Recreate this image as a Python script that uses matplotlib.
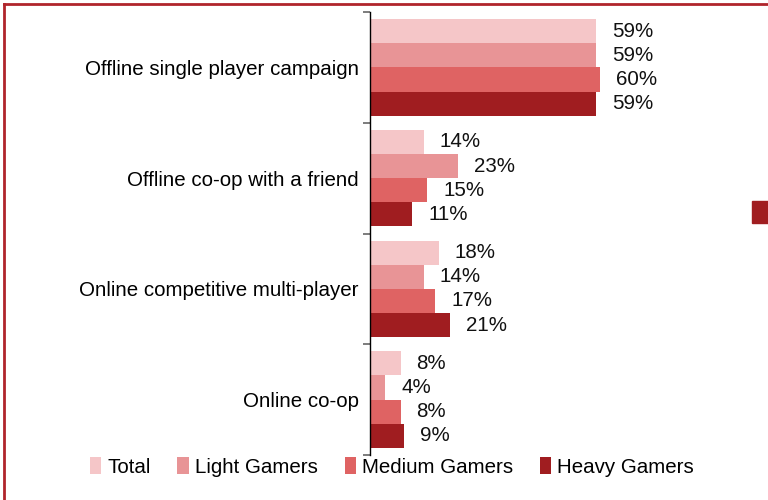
import matplotlib
matplotlib.use('Agg')
import matplotlib.pyplot as plt
from matplotlib.lines import Line2D
from matplotlib.patches import Rectangle
import numpy as np

plt.rcParams['font.family'] = ['Liberation Sans', 'DejaVu Sans']

categories = ['Offline single player campaign', 'Offline co-op with a friend',
              'Online competitive multi-player', 'Online co-op']
groups = ['Total', 'Light Gamers', 'Medium Gamers', 'Heavy Gamers']
total = [59, 14, 18, 8]
light = [59, 23, 14, 4]
medium = [60, 15, 17, 8]
heavy = [59, 11, 21, 9]
colors = ['#f5c6c8', '#e89496', '#df6363', '#a01d20']

series = [total, light, medium, heavy]

fig = plt.figure(figsize=(7.68, 5), dpi=100)
ax = fig.add_axes([370 / 768, 1 - 455 / 500, 398 / 768, 443 / 500])

bar_h = 0.218
y_base = np.arange(len(categories))
for i, (vals, col, name) in enumerate(zip(series, colors, groups)):
    ys = y_base + (i - 1.5) * bar_h
    ax.barh(ys, vals, height=bar_h, color=col, label=name, edgecolor='none')
    for y, v in zip(ys, vals):
        ax.annotate(f'{v}%', (v, y), xytext=(11.5, 0), textcoords='offset points',
                    va='center', ha='left', fontsize=14.8, color='#111111')

ax.set_ylim(len(categories) - 0.5, -0.5)
ax.set_xlim(0, 104)
ax.set_yticks(y_base)
ax.set_yticklabels(categories, fontsize=14.8)
ax.tick_params(axis='y', which='major', length=0, pad=8)
ax.set_yticks(np.arange(-0.5, len(categories)), minor=True)
ax.tick_params(axis='y', which='minor', length=5, color='#666666', width=1.2)
ax.set_xticks([])
for s in ['top', 'right', 'bottom']:
    ax.spines[s].set_visible(False)
ax.spines['left'].set_color('black')
ax.spines['left'].set_linewidth(1.0)

fig.legend(loc='center', bbox_to_anchor=(392 / 768, 1 - 467 / 500), ncol=4,
           frameon=False, fontsize=14.8, handlelength=0.55, handleheight=0.9,
           handletextpad=0.3, columnspacing=1.3, borderaxespad=0)

# dark red frame on the top and left edges
frame_col = '#b0252b'
fig.add_artist(Line2D([4 / 768, 1], [1 - 4 / 500, 1 - 4 / 500], color=frame_col,
                      lw=2, transform=fig.transFigure))
fig.add_artist(Line2D([4 / 768, 4 / 768], [0, 1 - 4 / 500], color=frame_col,
                      lw=2, transform=fig.transFigure))
fig.add_artist(Rectangle((752 / 768, 1 - 223 / 500), 16 / 768, 22 / 500,
                         color='#a01d20', transform=fig.transFigure))

fig.savefig('out.png', dpi=100)
